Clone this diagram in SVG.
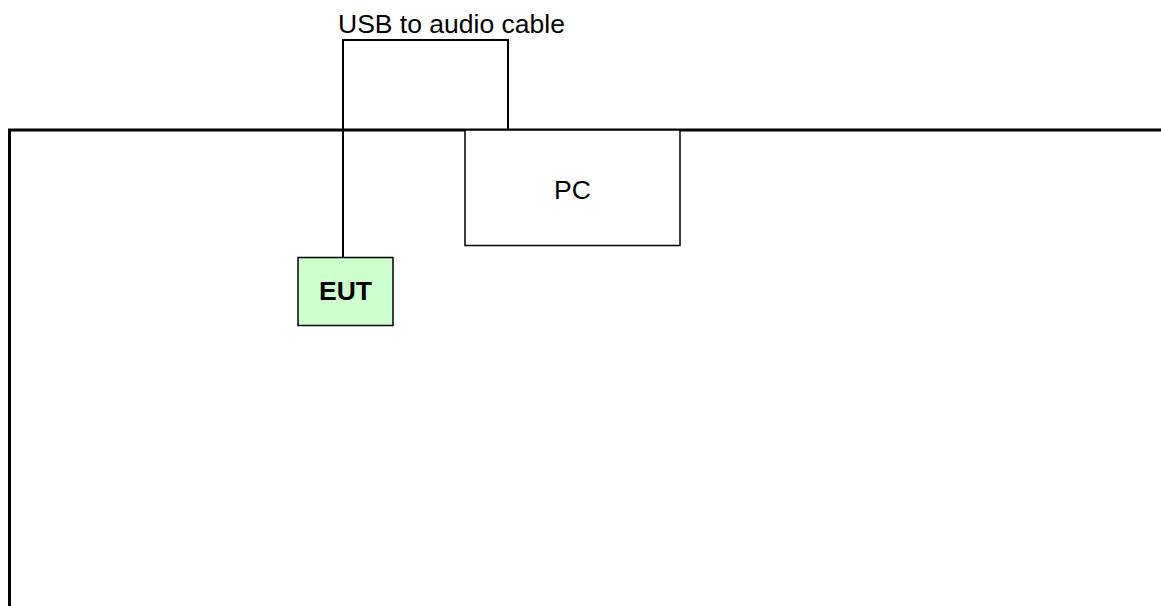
<svg xmlns="http://www.w3.org/2000/svg" width="1161" height="606" viewBox="0 0 1161 606">
<style>
.lbl{font-family:"Liberation Sans",Arial,sans-serif;font-size:26.5px;fill:#000}
.box{stroke:#000;stroke-width:1.5}
.wire{fill:none;stroke:#000;stroke-width:2}
</style>
<rect width="1161" height="606" fill="#fff"/>
<g id="frame">
<path d="M9.5 606 V130 H1161" fill="none" stroke="#000" stroke-width="3"/>
</g>
<g id="connectors">
<path class="wire" d="M343 257 V40 H508 V130"/>
<text class="lbl" x="338" y="33">USB to audio cable</text>
</g>
<g id="pc">
<rect class="box" x="465" y="130" width="215" height="115.5" fill="#fff"/>
<text class="lbl" x="572.5" y="199" text-anchor="middle">PC</text>
</g>
<g id="eut">
<rect class="box" x="298" y="257.5" width="95" height="68" fill="#ccffcc"/>
<text class="lbl" x="345.5" y="300" text-anchor="middle" font-weight="bold">EUT</text>
</g>
</svg>
